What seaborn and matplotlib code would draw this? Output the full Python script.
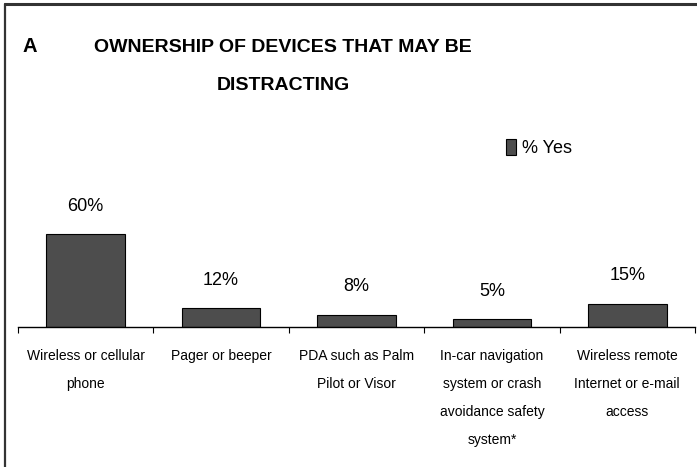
import matplotlib
matplotlib.use("Agg")
import matplotlib.pyplot as plt
import seaborn as sns
import pandas as pd

# data
categories = ["Wireless or cellular\nphone",
              "Pager or beeper",
              "PDA such as Palm\nPilot or Visor",
              "In-car navigation\nsystem or crash\navoidance safety\nsystem*",
              "Wireless remote\nInternet or e-mail\naccess"]
pct_yes = [60, 12, 8, 5, 15]
series_name = "% Yes"

df = pd.DataFrame({"device": categories, "pct": pct_yes})

sns.set_style("white")
plt.rcParams['font.family'] = ['Liberation Sans Narrow', 'Liberation Sans', 'DejaVu Sans']
plt.rcParams['text.color'] = 'black'
plt.rcParams['xtick.color'] = 'black'

fig = plt.figure(figsize=(6.97, 4.67), dpi=100)
ax = fig.add_axes([18 / 697, 140 / 467, 677 / 697, 155 / 467])

sns.barplot(data=df, x="device", y="pct", color="#4d4d4d", edgecolor="black",
            linewidth=0.8, width=0.58, saturation=1, label=series_name, ax=ax)

# value labels
ax.bar_label(ax.containers[0], labels=[f"{v}%" for v in pct_yes],
             padding=14, fontsize=13, color="black")

ax.set_ylim(0, 100)
ax.set_xlim(-0.5, len(categories) - 0.5)
ax.set_xlabel("")
ax.set_ylabel("")
ax.set_yticks([])

# category separators as major ticks, names as minor ticks
ax.set_xticks([i - 0.5 for i in range(len(categories) + 1)])
ax.set_xticklabels([])
ax.set_xticks(range(len(categories)), minor=True)
ax.set_xticklabels(categories, minor=True, fontsize=10, linespacing=2.3, va="top", color="black")
ax.tick_params(axis="x", which="major", direction="out", length=4, width=0.8, color="black", bottom=True)
ax.tick_params(axis="x", which="minor", length=0, pad=15.5)

for side in ["top", "right", "left"]:
    ax.spines[side].set_visible(False)
ax.spines["bottom"].set_color("black")
ax.spines["bottom"].set_linewidth(1.0)

# legend
leg = ax.legend(loc="center left", bbox_to_anchor=(490 / 697, 1 - 148 / 467),
                bbox_transform=fig.transFigure, frameon=False, fontsize=13,
                handlelength=0.55, handleheight=1.0, handletextpad=0.3)
for t in leg.get_texts():
    t.set_color("black")

# titles
fig.text(30 / 697, 1 - 47 / 467, "A", fontsize=14.5, fontweight="bold", ha="center", va="center")
fig.text(283 / 697, 1 - 47 / 467, "OWNERSHIP OF DEVICES THAT MAY BE", fontsize=14,
         fontweight="bold", ha="center", va="center")
fig.text(283 / 697, 1 - 86 / 467, "DISTRACTING", fontsize=14,
         fontweight="bold", ha="center", va="center")

# frame lines on top and left
fig.add_artist(plt.Line2D([5 / 697, 1], [1 - 3.5 / 467, 1 - 3.5 / 467], color="#333333", linewidth=2.2,
                          transform=fig.transFigure))
fig.add_artist(plt.Line2D([5 / 697, 5 / 697], [0, 1 - 3.5 / 467], color="#333333", linewidth=1.6,
                          transform=fig.transFigure))

fig.savefig("out.png", dpi=100)
